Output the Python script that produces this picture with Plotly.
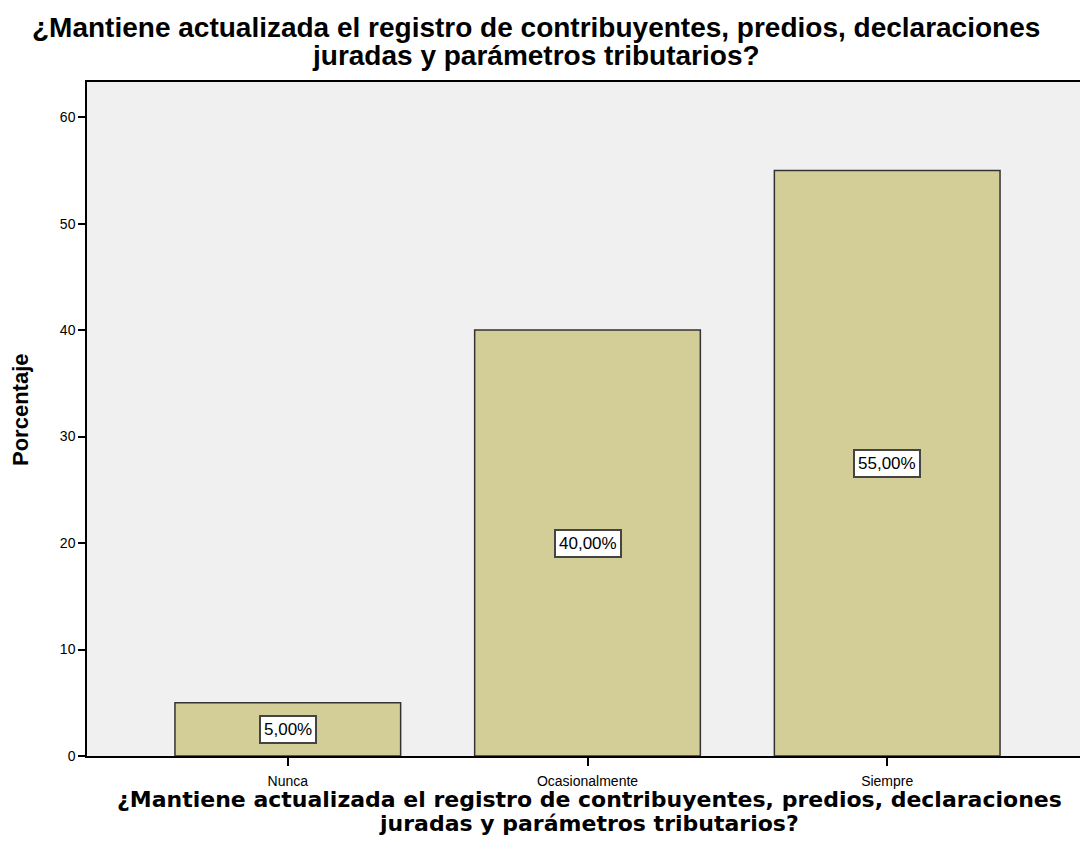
import plotly.graph_objects as go

categories = ["Nunca", "Ocasionalmente", "Siempre"]
values = [5.0, 40.0, 55.0]
labels = ["5,00%", "40,00%", "55,00%"]
y_ticks = [0, 10, 20, 30, 40, 50, 60]

title_line1 = "¿Mantiene actualizada el registro de contribuyentes, predios, declaraciones"
title_line2 = "juradas y parámetros tributarios?"
y_title = "Porcentaje"

fig = go.Figure()
fig.add_trace(go.Bar(
    x=list(range(len(categories))),
    y=values,
    width=0.753,
    marker=dict(color="#d3ce98", line=dict(color="#333333", width=1.5)),
    hoverinfo="skip",
))

for i, (v, lab) in enumerate(zip(values, labels)):
    fig.add_annotation(
        x=i, y=v / 2, text=lab, showarrow=False,
        font=dict(family="Liberation Sans", size=17, color="#000000"),
        bgcolor="#ffffff", bordercolor="#444444", borderwidth=2, borderpad=3,
    )

# chart title (two tightly spaced lines)
for txt, ys in [(title_line1, 55), (title_line2, 27)]:
    fig.add_annotation(
        xref="paper", yref="paper", x=0.4486, y=1, yshift=ys,
        xanchor="center", yanchor="middle", showarrow=False,
        text="<b>" + txt + "</b>",
        font=dict(family="Liberation Sans", size=28, color="#000000"),
    )

# x-axis title
for txt, ys in [(title_line1, -43), (title_line2, -67)]:
    fig.add_annotation(
        xref="paper", yref="paper", x=0.5015, y=0, yshift=ys,
        xanchor="center", yanchor="middle", showarrow=False,
        text="<b>" + txt + "</b>",
        font=dict(family="DejaVu Sans", size=22, color="#000000"),
    )

# y-axis title
fig.add_annotation(
    xref="paper", yref="paper", x=0, y=0.5, xshift=-67, yshift=9,
    xanchor="center", yanchor="middle", showarrow=False, textangle=-90,
    text="<b>" + y_title + "</b>",
    font=dict(family="Liberation Sans", size=22, color="#000000"),
)

fig.update_layout(
    width=1088, height=862,
    paper_bgcolor="#ffffff", plot_bgcolor="#f0f0f0",
    margin=dict(l=79, r=8, t=74, b=114),
    showlegend=False,
    xaxis=dict(
        range=[-0.67, 2.67],
        tickmode="array", tickvals=list(range(len(categories))), ticktext=categories,
        ticks="outside", ticklen=8, tickcolor="#000000", tickwidth=1.5,
        ticklabelstandoff=3,
        showline=True, linecolor="#000000", linewidth=1.5, mirror=True,
        showgrid=False, zeroline=False,
        tickfont=dict(family="Liberation Sans", size=14, color="#000000"),
    ),
    yaxis=dict(
        range=[0, 63.3],
        tickmode="array", tickvals=y_ticks,
        ticks="outside", ticklen=7, tickcolor="#000000", tickwidth=1.5,
        showline=True, linecolor="#000000", linewidth=1.5,
        showgrid=False, zeroline=False,
        tickfont=dict(family="Liberation Sans", size=14, color="#000000"),
    ),
)

fig.write_html("out.html")
